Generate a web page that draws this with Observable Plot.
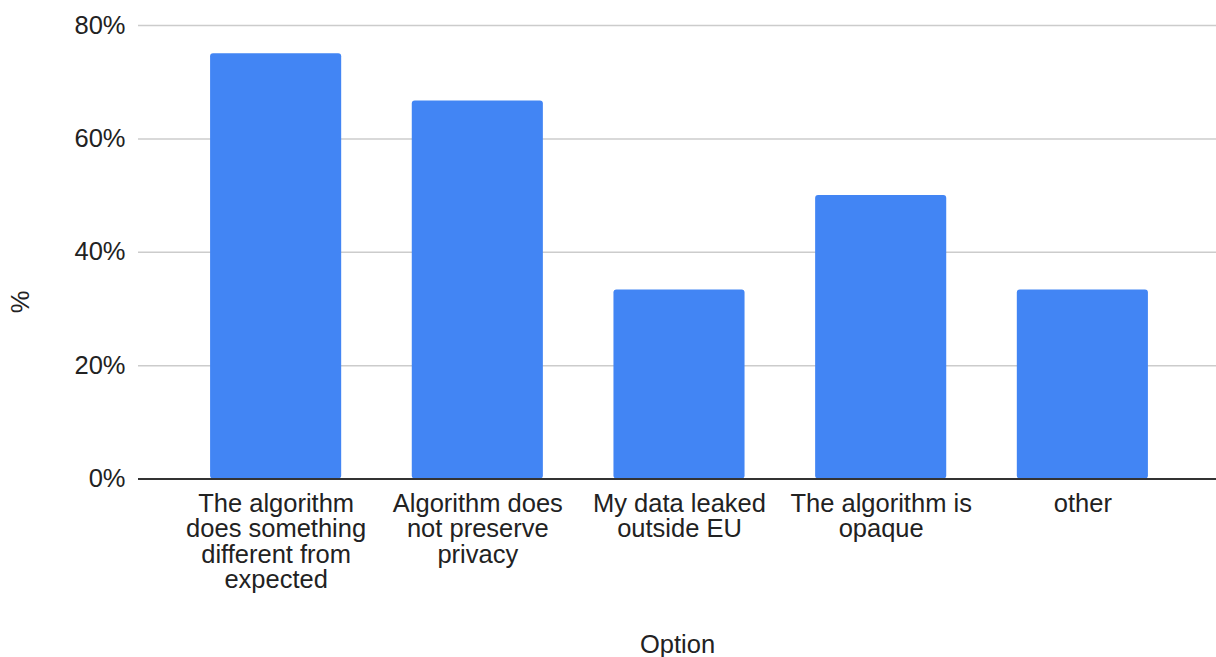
<!DOCTYPE html>
<html>
<head>
<meta charset="utf-8">
<script src="https://cdn.jsdelivr.net/npm/d3@7"></script>
<script src="https://cdn.jsdelivr.net/npm/@observablehq/plot@0.6"></script>
<style>
  html, body { margin: 0; padding: 0; background: #fff; }
  #chart svg { display: block; }
</style>
</head>
<body>
<div id="chart"></div>
<script>
const categories = [
  "The algorithm\ndoes something\ndifferent from\nexpected",
  "Algorithm does\nnot preserve\nprivacy",
  "My data leaked\noutside EU",
  "The algorithm is\nopaque",
  "other"
];
const percents = [75, 66.67, 33.33, 50, 33.33];
const yTicks = [0, 20, 40, 60, 80];
const xTitle = "Option";
const yTitle = "%";

const data = categories.map((c, i) => ({option: c, pct: percents[i]}));

const chart = Plot.plot({
  width: 1216,
  height: 657,
  marginLeft: 138,
  marginRight: 0,
  marginTop: 25,
  marginBottom: 178.5,
  style: {fontFamily: "'Liberation Sans', Arial, sans-serif", fontSize: "25.5px", color: "#222", background: "#fff", overflow: "visible"},
  x: {domain: categories, padding: 0.35, round: false, insetLeft: 1.5, insetRight: -2.5, label: null},
  y: {domain: [0, 80], label: null},
  marks: [
    Plot.ruleY(yTicks.filter(d => d > 0), {stroke: "#ccc", strokeWidth: 1.5}),
    Plot.barY(data, {x: "option", y: "pct", fill: "#4285F4", rx: 3}),
    Plot.ruleY([0], {stroke: "#333", strokeWidth: 2}),
    Plot.axisY({ticks: yTicks, tickFormat: d => d + "%", tickSize: 0, tickPadding: 13, label: null, fill: "#222", fontSize: 25.5}),
    Plot.axisX({tickSize: 0, tickPadding: 14.5, label: null, lineAnchor: "top", lineHeight: 1.0, fill: "#222", fontSize: 25.5}),
    Plot.text([yTitle], {text: d => d, frameAnchor: "left", dx: -118, dy: 61, rotate: -90, fontSize: 25.5, fill: "#222"}),
    Plot.text([xTitle], {text: d => d, frameAnchor: "bottom", dy: 166, lineAnchor: "middle", fontSize: 25.5, fill: "#222"})
  ]
});
document.getElementById("chart").appendChild(chart);
</script>
</body>
</html>
